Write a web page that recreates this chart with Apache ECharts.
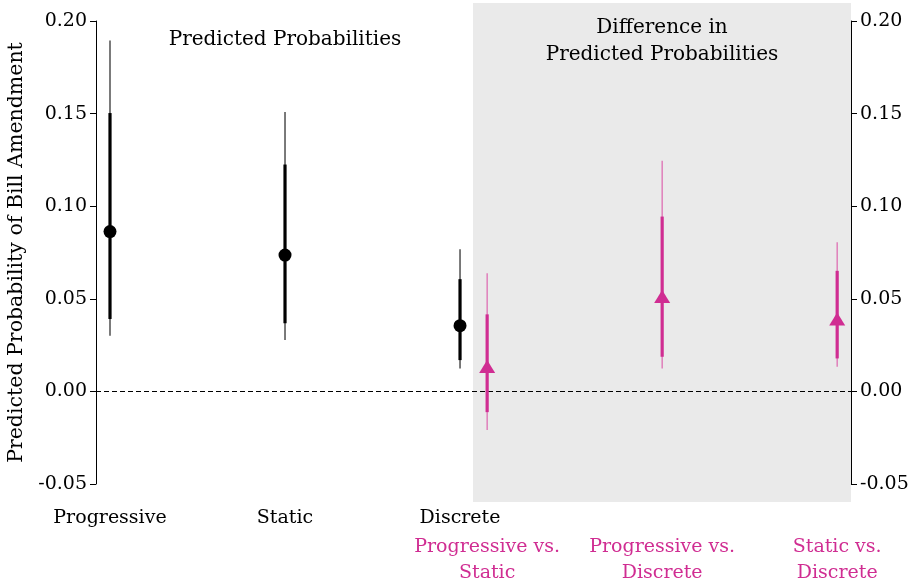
<!DOCTYPE html>
<html>
<head>
<meta charset="UTF-8" />
<title>Predicted Probability of Bill Amendment</title>
<script src="https://cdn.jsdelivr.net/npm/echarts@6/dist/echarts.min.js"></script>
<style>
  html, body { margin: 0; padding: 0; background: #fff; }
  #chart { width: 912px; height: 583px; }
</style>
</head>
<body>
<div id="chart"></div>
<script>
// ---- data ----
var groups = ["Progressive", "Static", "Discrete"];
var groupX = [0, 1, 2];
var predMean = [0.0863, 0.0736, 0.0355];
var predLo95 = [0.0301, 0.0277, 0.0124];
var predHi95 = [0.1895, 0.1509, 0.0768];
var predLo90 = [0.0391, 0.0368, 0.0169];
var predHi90 = [0.1503, 0.1225, 0.0606];

var diffs = ["Progressive vs.\nStatic", "Progressive vs.\nDiscrete", "Static vs.\nDiscrete"];
var diffX = [2.155, 3.155, 4.155];
var diffMean = [0.0135, 0.0513, 0.0391];
var diffLo95 = [-0.0209, 0.0124, 0.0133];
var diffHi95 = [0.0638, 0.1245, 0.0806];
var diffLo90 = [-0.0112, 0.0187, 0.0178];
var diffHi90 = [0.0416, 0.0944, 0.0651];

var yTicks = [-0.05, 0.0, 0.05, 0.1, 0.15, 0.2];
var diffPanelStart = 2.074;

// ---- layout ----
var FONT = "DejaVu Serif";
var MAGENTA = "#d02d92";
var xMin = -0.08, xMax = 4.234;
var gTop = 21, gBottom = 99, gLeft = 96, gRight = 61;
var pad = 18; // grey panel reaches beyond the trimmed spines
var pxPerUnit = (583 - gTop - gBottom) / (yTicks[yTicks.length - 1] - yTicks[0]);
var yMin = yTicks[0] - pad / pxPerUnit;
var yMax = yTicks[yTicks.length - 1] + pad / pxPerUnit;

function rows(xs, m, lo95, hi95, lo90, hi90) {
  return xs.map(function (x, i) {
    return [x, m[i], lo95[i], hi95[i], lo90[i], hi90[i]];
  });
}

function makeRender(color, thinColor, marker) {
  return function (params, api) {
    var x = api.value(0);
    var c = api.coord([x, api.value(1)]);
    var a = api.coord([x, api.value(2)]);
    var b = api.coord([x, api.value(3)]);
    var d = api.coord([x, api.value(4)]);
    var e = api.coord([x, api.value(5)]);
    var kids = [
      { type: "line", shape: { x1: a[0], y1: a[1], x2: b[0], y2: b[1] },
        style: { stroke: thinColor, lineWidth: 1.3 } },
      { type: "line", shape: { x1: d[0], y1: d[1], x2: e[0], y2: e[1] },
        style: { stroke: color, lineWidth: 3.2 } }
    ];
    if (marker === "circle") {
      kids.push({ type: "circle", shape: { cx: c[0], cy: c[1], r: 6.5 }, style: { fill: color } });
    } else {
      kids.push({ type: "polygon",
        shape: { points: [[c[0], c[1] - 6.5], [c[0] - 8, c[1] + 6.5], [c[0] + 8, c[1] + 6.5]] },
        style: { fill: color } });
    }
    return { type: "group", children: kids };
  };
}

function yAxisSide(side) {
  var ax = {
    gridIndex: 1, type: "value", position: side,
    min: yTicks[0], max: yTicks[yTicks.length - 1], interval: 0.05,
    axisLine: { show: true, onZero: false, lineStyle: { color: "#000", width: 1 } },
    axisTick: { show: true, length: 6, lineStyle: { color: "#000" } },
    splitLine: { show: false },
    axisLabel: { color: "#000", fontFamily: FONT, fontSize: 19, margin: 9,
      formatter: function (v) { return v.toFixed(2); } }
  };
  if (side === "left") {
    ax.name = "Predicted Probability of Bill Amendment";
    ax.nameLocation = "middle";
    ax.nameGap = 65;
    ax.nameTextStyle = { color: "#000", fontFamily: FONT, fontSize: 20.5 };
  }
  return ax;
}

var chart = echarts.init(document.getElementById("chart"), null, { renderer: "canvas" });

var option = {
  animation: false,
  backgroundColor: "#fff",
  textStyle: { fontFamily: FONT },
  grid: [
    { left: gLeft, right: gRight, top: gTop - pad, bottom: gBottom - pad, containLabel: false, outerBoundsMode: "none" },
    { left: gLeft, right: gRight, top: gTop, bottom: gBottom, containLabel: false, outerBoundsMode: "none" }
  ],
  xAxis: [
    {
      gridIndex: 0, type: "value", min: xMin, max: xMax, position: "bottom",
      axisLine: { show: false, onZero: false }, axisTick: { show: false }, splitLine: { show: false },
      axisLabel: {
        customValues: groupX, margin: 7,
        color: "#000", fontFamily: FONT, fontSize: 19,
        formatter: function (v) { return groups[groupX.indexOf(v)]; }
      }
    },
    {
      gridIndex: 0, type: "value", min: xMin, max: xMax, position: "bottom",
      axisLine: { show: false, onZero: false }, axisTick: { show: false }, splitLine: { show: false },
      axisLabel: {
        customValues: diffX, margin: 32, lineHeight: 26,
        color: MAGENTA, fontFamily: FONT, fontSize: 19,
        formatter: function (v) { return diffs[diffX.indexOf(v)]; }
      }
    },
    {
      gridIndex: 1, type: "value", min: xMin, max: xMax, show: false,
      axisLine: { onZero: false }
    }
  ],
  yAxis: [
    { gridIndex: 0, type: "value", min: yMin, max: yMax, show: false, axisLine: { onZero: false } },
    yAxisSide("left"),
    yAxisSide("right")
  ],
  graphic: [
    { type: "text", x: 285, y: 40, z: 10,
      style: { text: "Predicted Probabilities", fill: "#000", font: "20px " + FONT,
        align: "center", verticalAlign: "middle" } },
    { type: "text", x: 662, y: 41, z: 10,
      style: { text: "Difference in\nPredicted Probabilities", fill: "#000", font: "20px " + FONT,
        lineHeight: 27, align: "center", verticalAlign: "middle" } }
  ],
  series: [
    {
      type: "line", xAxisIndex: 0, yAxisIndex: 0, data: [], z: 0, silent: true,
      markArea: {
        silent: true,
        itemStyle: { color: "#eaeaea" },
        data: [[{ xAxis: diffPanelStart, yAxis: yMin }, { xAxis: xMax, yAxis: yMax }]]
      },
      markLine: {
        silent: true, symbol: ["none", "none"],
        label: { show: false },
        lineStyle: { color: "#000", width: 1, type: [5, 3] },
        data: [{ yAxis: 0 }]
      }
    },
    {
      type: "custom", xAxisIndex: 0, yAxisIndex: 0, z: 5,
      renderItem: makeRender("#000", "#333", "circle"),
      encode: { x: 0, y: [1, 2, 3, 4, 5] },
      data: rows(groupX, predMean, predLo95, predHi95, predLo90, predHi90)
    },
    {
      type: "custom", xAxisIndex: 0, yAxisIndex: 0, z: 5,
      renderItem: makeRender(MAGENTA, "#de6fb3", "triangle"),
      encode: { x: 0, y: [1, 2, 3, 4, 5] },
      data: rows(diffX, diffMean, diffLo95, diffHi95, diffLo90, diffHi90)
    }
  ]
};

chart.setOption(option);
window.addEventListener("resize", function () { chart.resize(); });
</script>
</body>
</html>
